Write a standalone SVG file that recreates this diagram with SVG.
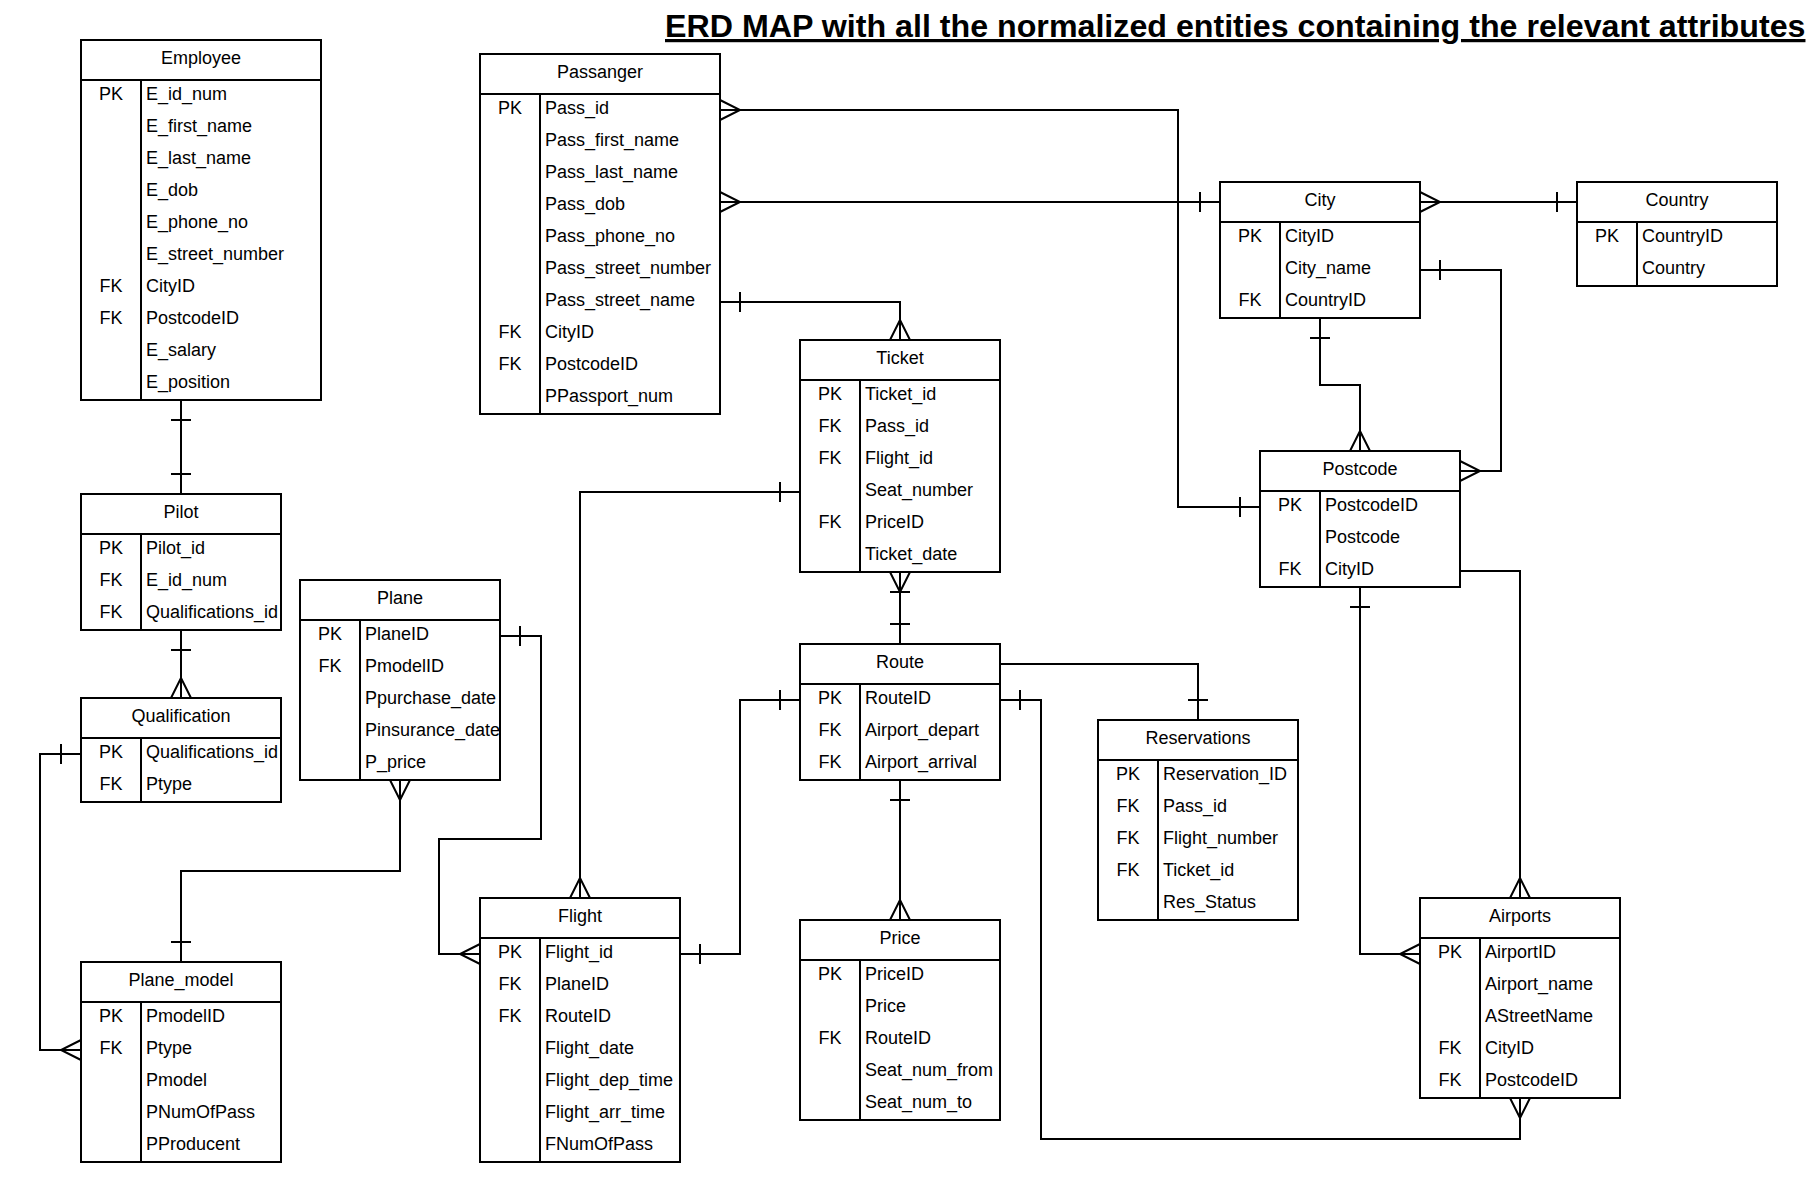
<svg xmlns="http://www.w3.org/2000/svg" width="1816" height="1202" viewBox="0 0 1816 1202">
<style>
.box{fill:#fff;stroke:#000;stroke-width:2}
.sep{stroke:#000;stroke-width:2;fill:none}
.conn{fill:none;stroke:#000;stroke-width:2}
.t{font-family:"Liberation Sans",Arial,sans-serif;font-size:18px;fill:#000}
.c{text-anchor:middle}
.title{font-family:"Liberation Sans",Arial,sans-serif;font-weight:bold;font-size:32.2px;fill:#000;text-decoration:underline}
</style>
<defs>
<marker id="one" viewBox="-30 -15 40 30" refX="0" refY="0" markerWidth="40" markerHeight="30" markerUnits="userSpaceOnUse" orient="auto-start-reverse" overflow="visible">
<path d="M-20 -10 L-20 10" fill="none" stroke="#000" stroke-width="2"/>
</marker>
<marker id="many" viewBox="-30 -15 40 30" refX="0" refY="0" markerWidth="40" markerHeight="30" markerUnits="userSpaceOnUse" orient="auto-start-reverse" overflow="visible">
<path d="M0 -10 L-20 0 L0 10" fill="none" stroke="#000" stroke-width="2"/>
</marker>
<marker id="oneMany" viewBox="-30 -15 40 30" refX="0" refY="0" markerWidth="40" markerHeight="30" markerUnits="userSpaceOnUse" orient="auto-start-reverse" overflow="visible">
<path d="M0 -10 L-20 0 L0 10 M-20 -10 L-20 10" fill="none" stroke="#000" stroke-width="2"/>
</marker>
</defs>
<rect width="1816" height="1202" fill="#fff"/>
<text class="title" x="665" y="37">ERD MAP with all the normalized entities containing the relevant attributes</text>

<g id="connectors">
<path class="conn" d="M720 110 H1178 V507 H1260" marker-start="url(#many)" marker-end="url(#one)"/>
<path class="conn" d="M720 202 H1220" marker-start="url(#many)" marker-end="url(#one)"/>
<path class="conn" d="M720 302 H900 V340" marker-start="url(#one)" marker-end="url(#many)"/>
<path class="conn" d="M1420 202 H1577" marker-start="url(#many)" marker-end="url(#one)"/>
<path class="conn" d="M1420 270 H1501 V471 H1460" marker-start="url(#one)" marker-end="url(#many)"/>
<path class="conn" d="M1320 318 V385 H1360 V451" marker-start="url(#one)" marker-end="url(#many)"/>
<path class="conn" d="M1460 571 H1520 V898" marker-end="url(#many)"/>
<path class="conn" d="M1360 587 V954 H1420" marker-start="url(#one)" marker-end="url(#many)"/>
<path class="conn" d="M800 492 H580 V898" marker-start="url(#one)" marker-end="url(#many)"/>
<path class="conn" d="M900 572 V644" marker-start="url(#oneMany)" marker-end="url(#one)"/>
<path class="conn" d="M1000 664 H1198 V720" marker-end="url(#one)"/>
<path class="conn" d="M800 700 H740 V954 H680" marker-start="url(#one)" marker-end="url(#one)"/>
<path class="conn" d="M1000 700 H1041 V1139 H1520 V1098" marker-start="url(#one)" marker-end="url(#many)"/>
<path class="conn" d="M900 780 V920" marker-start="url(#one)" marker-end="url(#many)"/>
<path class="conn" d="M500 636 H541 V839 H439 V954 H480" marker-start="url(#one)" marker-end="url(#many)"/>
<path class="conn" d="M400 780 V871 H181 V962" marker-start="url(#many)" marker-end="url(#one)"/>
<path class="conn" d="M181 400 V494" marker-start="url(#one)" marker-end="url(#one)"/>
<path class="conn" d="M181 630 V698" marker-start="url(#one)" marker-end="url(#many)"/>
<path class="conn" d="M81 754 H40 V1050 H81" marker-start="url(#one)" marker-end="url(#many)"/>
</g>

<g id="employee">
<rect class="box" x="81" y="40" width="240" height="360"/>
<path class="sep" d="M81 80 H321 M141 80 V400"/>
<text class="t c" x="201" y="64">Employee</text>
<text class="t c" x="111" y="100">PK</text><text class="t" x="146" y="100">E_id_num</text>
<text class="t" x="146" y="132">E_first_name</text>
<text class="t" x="146" y="164">E_last_name</text>
<text class="t" x="146" y="196">E_dob</text>
<text class="t" x="146" y="228">E_phone_no</text>
<text class="t" x="146" y="260">E_street_number</text>
<text class="t c" x="111" y="292">FK</text><text class="t" x="146" y="292">CityID</text>
<text class="t c" x="111" y="324">FK</text><text class="t" x="146" y="324">PostcodeID</text>
<text class="t" x="146" y="356">E_salary</text>
<text class="t" x="146" y="388">E_position</text>
</g>

<g id="passanger">
<rect class="box" x="480" y="54" width="240" height="360"/>
<path class="sep" d="M480 94 H720 M540 94 V414"/>
<text class="t c" x="600" y="78">Passanger</text>
<text class="t c" x="510" y="114">PK</text><text class="t" x="545" y="114">Pass_id</text>
<text class="t" x="545" y="146">Pass_first_name</text>
<text class="t" x="545" y="178">Pass_last_name</text>
<text class="t" x="545" y="210">Pass_dob</text>
<text class="t" x="545" y="242">Pass_phone_no</text>
<text class="t" x="545" y="274">Pass_street_number</text>
<text class="t" x="545" y="306">Pass_street_name</text>
<text class="t c" x="510" y="338">FK</text><text class="t" x="545" y="338">CityID</text>
<text class="t c" x="510" y="370">FK</text><text class="t" x="545" y="370">PostcodeID</text>
<text class="t" x="545" y="402">PPassport_num</text>
</g>

<g id="city">
<rect class="box" x="1220" y="182" width="200" height="136"/>
<path class="sep" d="M1220 222 H1420 M1280 222 V318"/>
<text class="t c" x="1320" y="206">City</text>
<text class="t c" x="1250" y="242">PK</text><text class="t" x="1285" y="242">CityID</text>
<text class="t" x="1285" y="274">City_name</text>
<text class="t c" x="1250" y="306">FK</text><text class="t" x="1285" y="306">CountryID</text>
</g>

<g id="country">
<rect class="box" x="1577" y="182" width="200" height="104"/>
<path class="sep" d="M1577 222 H1777 M1637 222 V286"/>
<text class="t c" x="1677" y="206">Country</text>
<text class="t c" x="1607" y="242">PK</text><text class="t" x="1642" y="242">CountryID</text>
<text class="t" x="1642" y="274">Country</text>
</g>

<g id="ticket">
<rect class="box" x="800" y="340" width="200" height="232"/>
<path class="sep" d="M800 380 H1000 M860 380 V572"/>
<text class="t c" x="900" y="364">Ticket</text>
<text class="t c" x="830" y="400">PK</text><text class="t" x="865" y="400">Ticket_id</text>
<text class="t c" x="830" y="432">FK</text><text class="t" x="865" y="432">Pass_id</text>
<text class="t c" x="830" y="464">FK</text><text class="t" x="865" y="464">Flight_id</text>
<text class="t" x="865" y="496">Seat_number</text>
<text class="t c" x="830" y="528">FK</text><text class="t" x="865" y="528">PriceID</text>
<text class="t" x="865" y="560">Ticket_date</text>
</g>

<g id="postcode">
<rect class="box" x="1260" y="451" width="200" height="136"/>
<path class="sep" d="M1260 491 H1460 M1320 491 V587"/>
<text class="t c" x="1360" y="475">Postcode</text>
<text class="t c" x="1290" y="511">PK</text><text class="t" x="1325" y="511">PostcodeID</text>
<text class="t" x="1325" y="543">Postcode</text>
<text class="t c" x="1290" y="575">FK</text><text class="t" x="1325" y="575">CityID</text>
</g>

<g id="pilot">
<rect class="box" x="81" y="494" width="200" height="136"/>
<path class="sep" d="M81 534 H281 M141 534 V630"/>
<text class="t c" x="181" y="518">Pilot</text>
<text class="t c" x="111" y="554">PK</text><text class="t" x="146" y="554">Pilot_id</text>
<text class="t c" x="111" y="586">FK</text><text class="t" x="146" y="586">E_id_num</text>
<text class="t c" x="111" y="618">FK</text><text class="t" x="146" y="618">Qualifications_id</text>
</g>

<g id="plane">
<rect class="box" x="300" y="580" width="200" height="200"/>
<path class="sep" d="M300 620 H500 M360 620 V780"/>
<text class="t c" x="400" y="604">Plane</text>
<text class="t c" x="330" y="640">PK</text><text class="t" x="365" y="640">PlaneID</text>
<text class="t c" x="330" y="672">FK</text><text class="t" x="365" y="672">PmodelID</text>
<text class="t" x="365" y="704">Ppurchase_date</text>
<text class="t" x="365" y="736">Pinsurance_date</text>
<text class="t" x="365" y="768">P_price</text>
</g>

<g id="route">
<rect class="box" x="800" y="644" width="200" height="136"/>
<path class="sep" d="M800 684 H1000 M860 684 V780"/>
<text class="t c" x="900" y="668">Route</text>
<text class="t c" x="830" y="704">PK</text><text class="t" x="865" y="704">RouteID</text>
<text class="t c" x="830" y="736">FK</text><text class="t" x="865" y="736">Airport_depart</text>
<text class="t c" x="830" y="768">FK</text><text class="t" x="865" y="768">Airport_arrival</text>
</g>

<g id="qualification">
<rect class="box" x="81" y="698" width="200" height="104"/>
<path class="sep" d="M81 738 H281 M141 738 V802"/>
<text class="t c" x="181" y="722">Qualification</text>
<text class="t c" x="111" y="758">PK</text><text class="t" x="146" y="758">Qualifications_id</text>
<text class="t c" x="111" y="790">FK</text><text class="t" x="146" y="790">Ptype</text>
</g>

<g id="reservations">
<rect class="box" x="1098" y="720" width="200" height="200"/>
<path class="sep" d="M1098 760 H1298 M1158 760 V920"/>
<text class="t c" x="1198" y="744">Reservations</text>
<text class="t c" x="1128" y="780">PK</text><text class="t" x="1163" y="780">Reservation_ID</text>
<text class="t c" x="1128" y="812">FK</text><text class="t" x="1163" y="812">Pass_id</text>
<text class="t c" x="1128" y="844">FK</text><text class="t" x="1163" y="844">Flight_number</text>
<text class="t c" x="1128" y="876">FK</text><text class="t" x="1163" y="876">Ticket_id</text>
<text class="t" x="1163" y="908">Res_Status</text>
</g>

<g id="flight">
<rect class="box" x="480" y="898" width="200" height="264"/>
<path class="sep" d="M480 938 H680 M540 938 V1162"/>
<text class="t c" x="580" y="922">Flight</text>
<text class="t c" x="510" y="958">PK</text><text class="t" x="545" y="958">Flight_id</text>
<text class="t c" x="510" y="990">FK</text><text class="t" x="545" y="990">PlaneID</text>
<text class="t c" x="510" y="1022">FK</text><text class="t" x="545" y="1022">RouteID</text>
<text class="t" x="545" y="1054">Flight_date</text>
<text class="t" x="545" y="1086">Flight_dep_time</text>
<text class="t" x="545" y="1118">Flight_arr_time</text>
<text class="t" x="545" y="1150">FNumOfPass</text>
</g>

<g id="airports">
<rect class="box" x="1420" y="898" width="200" height="200"/>
<path class="sep" d="M1420 938 H1620 M1480 938 V1098"/>
<text class="t c" x="1520" y="922">Airports</text>
<text class="t c" x="1450" y="958">PK</text><text class="t" x="1485" y="958">AirportID</text>
<text class="t" x="1485" y="990">Airport_name</text>
<text class="t" x="1485" y="1022">AStreetName</text>
<text class="t c" x="1450" y="1054">FK</text><text class="t" x="1485" y="1054">CityID</text>
<text class="t c" x="1450" y="1086">FK</text><text class="t" x="1485" y="1086">PostcodeID</text>
</g>

<g id="price">
<rect class="box" x="800" y="920" width="200" height="200"/>
<path class="sep" d="M800 960 H1000 M860 960 V1120"/>
<text class="t c" x="900" y="944">Price</text>
<text class="t c" x="830" y="980">PK</text><text class="t" x="865" y="980">PriceID</text>
<text class="t" x="865" y="1012">Price</text>
<text class="t c" x="830" y="1044">FK</text><text class="t" x="865" y="1044">RouteID</text>
<text class="t" x="865" y="1076">Seat_num_from</text>
<text class="t" x="865" y="1108">Seat_num_to</text>
</g>

<g id="plane_model">
<rect class="box" x="81" y="962" width="200" height="200"/>
<path class="sep" d="M81 1002 H281 M141 1002 V1162"/>
<text class="t c" x="181" y="986">Plane_model</text>
<text class="t c" x="111" y="1022">PK</text><text class="t" x="146" y="1022">PmodelID</text>
<text class="t c" x="111" y="1054">FK</text><text class="t" x="146" y="1054">Ptype</text>
<text class="t" x="146" y="1086">Pmodel</text>
<text class="t" x="146" y="1118">PNumOfPass</text>
<text class="t" x="146" y="1150">PProducent</text>
</g>
</svg>
